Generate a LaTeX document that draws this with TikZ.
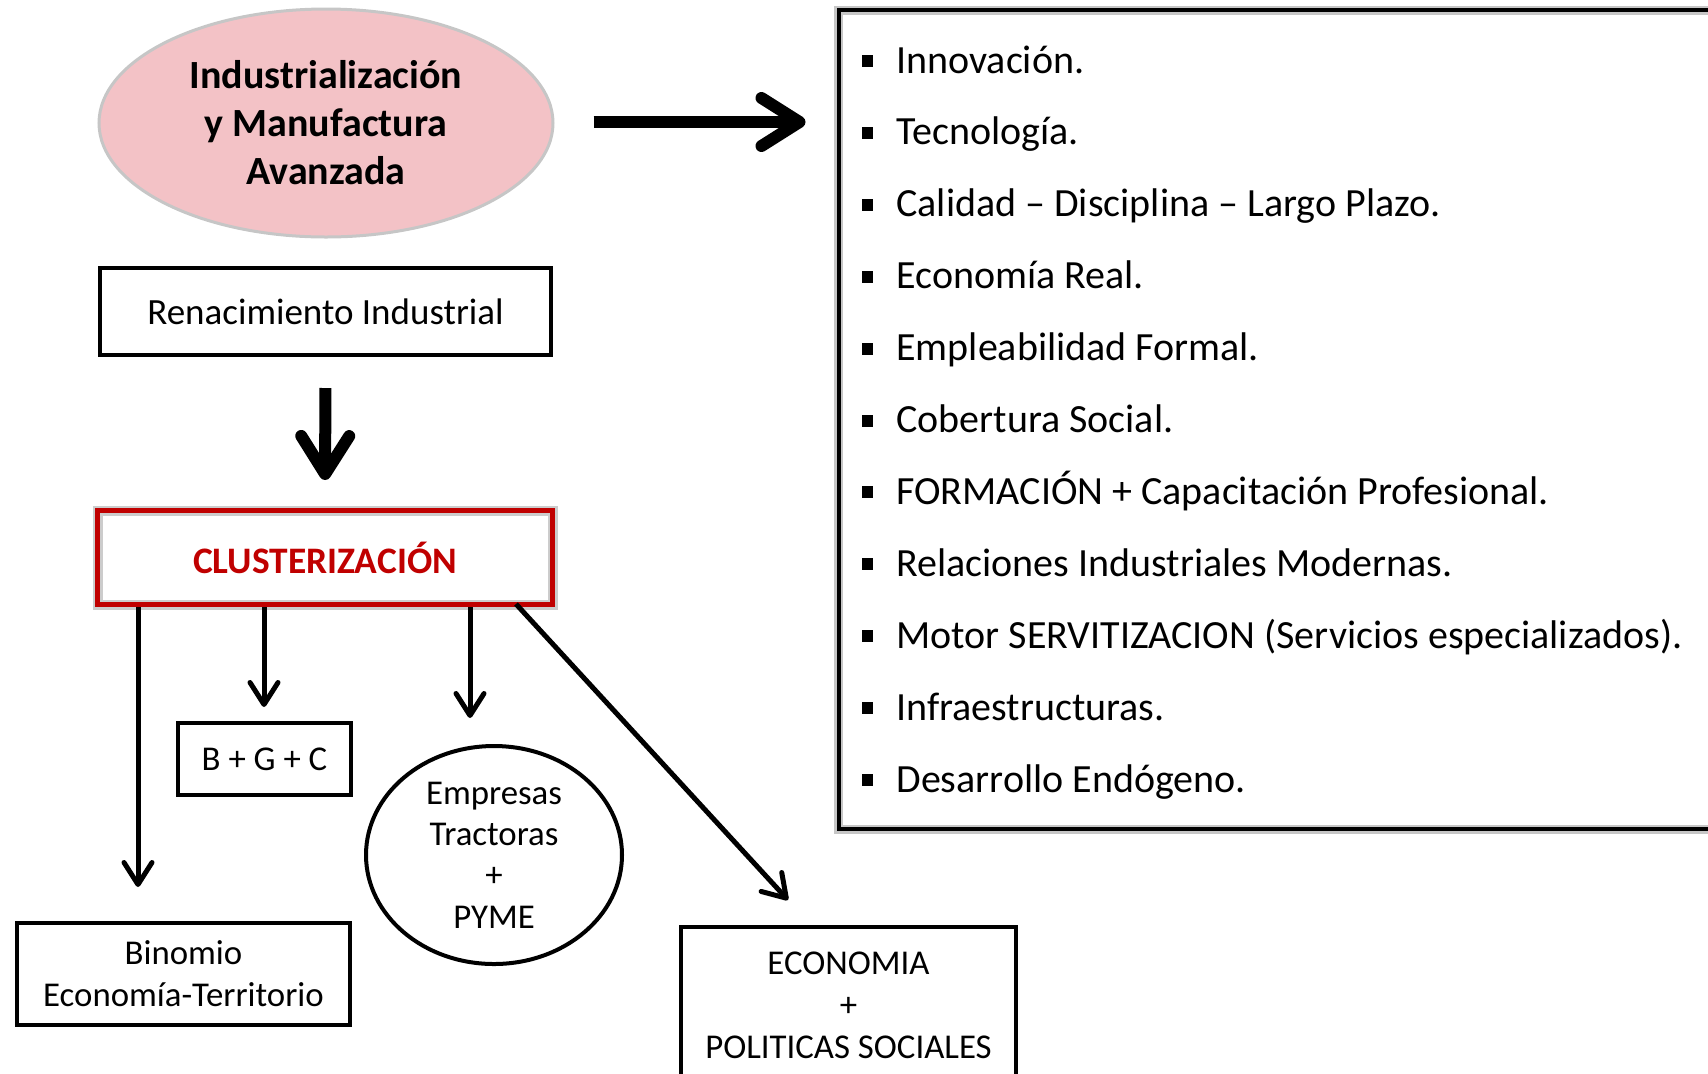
\documentclass[tikz,border=0pt]{standalone}
\usepackage{fontspec}
\setmainfont{Carlito}
\usetikzlibrary{arrows.meta,shapes.geometric,calc}

\definecolor{rosa}{RGB}{243,194,198}
\definecolor{rojo}{RGB}{192,0,0}

\tikzset{
	caja/.style={draw, line width=2pt, inner sep=0pt, align=center, font=\fontsize{17.4}{19}\selectfont},
	flecha/.style={line width=2.5pt, -{Straight Barb[length=11pt, width=14pt, round]}},
	flechagr/.style={line width=6pt, -{Straight Barb[length=19pt, width=24pt, round]}},
}

\begin{document}
\begin{tikzpicture}[x=0.5pt, y=-0.5pt]

		\useasboundingbox (0,0) rectangle (1708,1073);
		
		% nodos de la izquierda
		\node [ellipse, fill=rosa, draw=gray!45, line width=1.5pt, minimum width=227pt, minimum height=114pt, inner sep=0pt, align=center,
			font=\bfseries\fontsize{20}{24}\selectfont] (ind) at (326,123) {Industrialización\\y Manufactura\\Avanzada};
		\node [caja, font=\fontsize{18.5}{21}\selectfont, minimum width=225.5pt, minimum height=43.5pt] (ren) at (325.5,311.5) {Renacimiento Industrial};
		\node [caja, draw=rojo, line width=2.5pt, text=rojo, font=\bfseries\fontsize{18.7}{20}\selectfont,
			preaction={draw=gray!40, line width=5pt},
			minimum width=227.5pt, minimum height=47pt] (clus) at (325,557.5) {CLUSTERIZACIÓN};
		\node [caja, minimum width=86.5pt, minimum height=36pt] (bgc) at (264.5,759) {B + G + C};
		\node [caja, ellipse, minimum width=128pt, minimum height=109pt, font=\fontsize{17.4}{20.7}\selectfont] (emp) at (494,855) {Empresas\\Tractoras\\+\\PYME};
		\node [caja, font=\fontsize{17.4}{21}\selectfont, minimum width=166.5pt, minimum height=51pt] (bin) at (183.5,974) {Binomio\\Economía-Territorio};
		\node [caja, font=\fontsize{17.4}{21}\selectfont, minimum width=167.5pt, minimum height=78pt] (eco) at (848.5,1005) {ECONOMIA\\+\\POLITICAS SOCIALES};
		
		% recuadro de la derecha
		\node [draw, line width=2pt, preaction={draw=gray!45, line width=4.5pt}, minimum width=443pt, minimum height=409.5pt, inner sep=0pt] (lista) at (1281.5,419.5) {};
		
		\foreach \t [count=\i from 0] in {Innovación., Tecnología., Calidad – Disciplina – Largo Plazo., Economía Real., Empleabilidad Formal., Cobertura Social., FORMACIÓN + Capacitación Profesional., Relaciones Industriales Modernas., Motor SERVITIZACION (Servicios especializados)., Infraestructuras., Desarrollo Endógeno.}{
			\fill (862,73+71.9*\i-18) rectangle (873,73+71.9*\i-6);
			\node [anchor=base west, inner sep=0pt, font=\fontsize{20}{22}\selectfont] (item\i) at (896,73+71.9*\i) {\t};
		}
		
		% flechas
		\coordinate (c1) at (138,0);
		\coordinate (c2) at (264,0);
		\coordinate (c3) at (470,0);
		\coordinate (d1) at (516,604);
		\coordinate (d2) at (788,900);
		
		\draw [flechagr, shorten <=19.5pt, shorten >=15.5pt] (ind.east |- 0,122) -- (lista.west |- 0,122);
		\draw [flechagr, shorten <=15.5pt, shorten >=14pt] (ren.south) -- (clus.north);
		
		\draw [flecha, shorten >=17pt] (clus.south -| c1) -- (bin.north -| c1);
		\draw [flecha, shorten >=7pt] (clus.south -| c2) -- (bgc.north -| c2);
		\draw [flecha, shorten >=13pt] (clus.south -| c3) -- (emp.north -| c3);
		\draw [flecha] (d1) -- (d2);
		
\end{tikzpicture}
\end{document}
